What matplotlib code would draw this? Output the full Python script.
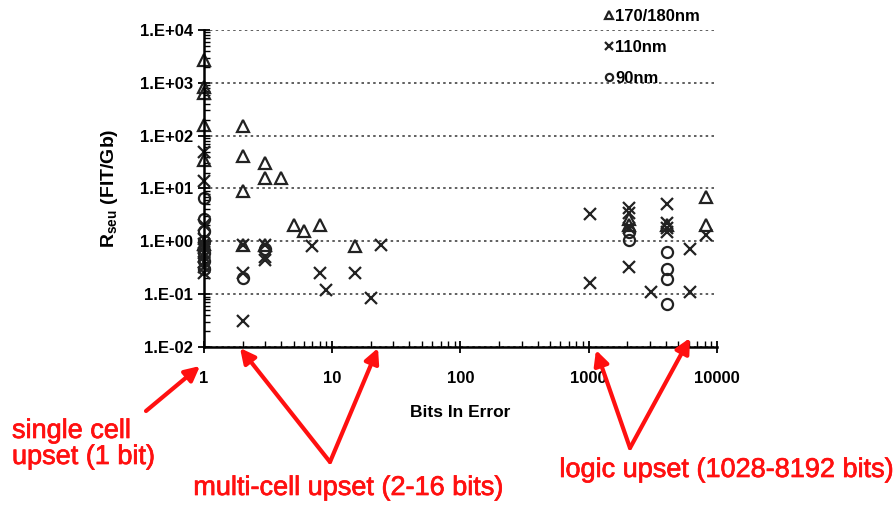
import matplotlib.pyplot as plt
import matplotlib.patheffects as pe
from matplotlib.patches import FancyArrowPatch
from matplotlib.ticker import FixedLocator, LogLocator, NullFormatter

# bits in error / R_seu (FIT/Gb)
tri_bits = [1, 1, 1, 1, 1, 1, 2, 2, 2, 2, 3, 3, 3, 4, 5, 6, 8, 15,
            2048, 2048, 4096, 8192, 8192]
tri_rate = [2700, 850, 650, 160, 35, 0.9, 150, 42, 9, 0.85, 31, 16, 0.85, 16, 2.0, 1.6, 2.0, 0.8,
            2.7, 2.0, 2.0, 7.0, 2.0]

x_bits = [1, 1, 1, 1, 1, 1, 1, 1, 1, 1, 1,
          2, 2, 2, 3, 3, 3, 7, 8, 9, 15, 20, 24,
          1024, 1024, 2048, 2048, 2048, 2048, 3072,
          4096, 4096, 4096, 4096, 6144, 6144, 8192]
x_rate = [50, 14, 2.0, 1.1, 0.9, 0.75, 0.6, 0.5, 0.4, 0.33, 0.25,
          0.85, 0.25, 0.031, 0.85, 0.5, 0.45, 0.8, 0.25, 0.12, 0.25, 0.085, 0.85,
          3.3, 0.16, 4.3, 3.4, 1.8, 0.32, 0.11,
          5.0, 2.2, 1.8, 1.5, 0.7, 0.11, 1.3]

o_bits = [1, 1, 1, 1, 1, 1, 1, 2, 3, 2048, 2048, 4096, 4096, 4096, 4096]
o_rate = [6.5, 2.7, 1.6, 1.0, 0.6, 0.43, 0.3, 0.2, 0.7, 1.5, 1.05, 0.62, 0.3, 0.19, 0.065]

y_ticks = [1e-2, 1e-1, 1e0, 1e1, 1e2, 1e3, 1e4]
y_labels = ['1.E-02', '1.E-01', '1.E+00', '1.E+01', '1.E+02', '1.E+03', '1.E+04']
x_ticks = [1, 10, 100, 1000, 10000]
x_labels = ['1', '10', '100', '1000', '10000']

plt.rcParams['font.family'] = ['Liberation Sans', 'DejaVu Sans']
plt.rcParams['mathtext.fontset'] = 'custom'
plt.rcParams['mathtext.rm'] = 'Liberation Sans'
plt.rcParams['mathtext.bf'] = 'Liberation Sans:bold'

fig = plt.figure(figsize=(8.96, 5.08), dpi=100)
ax = fig.add_axes([0.2277, 0.317, 0.5725, 0.624])

ink = '#222222'
ax.plot(tri_bits, tri_rate, ls='none', marker='^', ms=9, mfc='none', mec=ink, mew=1.6,
        label='170/180nm', clip_on=False)
ax.plot(x_bits, x_rate, ls='none', marker='x', ms=9, mec=ink, mew=1.6,
        label='110nm', clip_on=False)
ax.plot(o_bits, o_rate, ls='none', marker='o', ms=8, mfc='none', mec=ink, mew=1.6,
        label='90nm', clip_on=False)

ax.set_xscale('log')
ax.set_yscale('log')
ax.set_xlim(1, 10000)
ax.set_ylim(1e-2, 1e4)

ax.yaxis.set_major_locator(FixedLocator(y_ticks))
ax.set_yticklabels(y_labels)
ax.xaxis.set_major_locator(FixedLocator(x_ticks))
ax.set_xticklabels(x_labels)
ax.xaxis.set_minor_locator(LogLocator(base=10, subs=range(2, 10)))
ax.yaxis.set_minor_locator(LogLocator(base=10, subs=range(2, 10)))
ax.xaxis.set_minor_formatter(NullFormatter())
ax.yaxis.set_minor_formatter(NullFormatter())

ax.tick_params(which='major', direction='inout', length=8, width=1.3, labelsize=12)
ax.tick_params(axis='y', which='major', pad=4)
ax.tick_params(axis='x', which='major', pad=13)
ax.tick_params(which='minor', direction='in', length=4, width=1)
for lab in ax.get_xticklabels() + ax.get_yticklabels():
    lab.set_fontweight('bold')

ax.grid(True, axis='y', which='major', ls=(0, (1.5, 2)), color='#444444', lw=1.2)
for s in ['top', 'right']:
    ax.spines[s].set_visible(False)
for s in ['left', 'bottom']:
    ax.spines[s].set_linewidth(1.8)

ax.set_xlabel('Bits In Error', fontsize=12.5, fontweight='bold', labelpad=14)
ax.set_ylabel(r'R$_{\mathbf{seu}}$ (FIT/Gb)', fontsize=14, fontweight='bold', labelpad=14)

leg = ax.legend(loc='upper left', bbox_to_anchor=(0.658, 1.012), bbox_transform=fig.transFigure,
                frameon=False, markerscale=0.65, handlelength=0.5, handletextpad=0.15,
                labelspacing=0.95, prop={'weight': 'bold', 'size': 12})

# red annotations
red = '#ff1010'
thick = [pe.withStroke(linewidth=0.5, foreground=red)]


def px(x, y):
    return (x / 896, 1 - y / 508)


def arrow(tail, tip):
    fig.add_artist(FancyArrowPatch(
        px(*tail), px(*tip), transform=fig.transFigure, arrowstyle='-|>',
        mutation_scale=22, color=red, lw=3, shrinkA=0, shrinkB=0))


fig.text(*px(12, 444), 'single cell\nupset (1 bit)', color=red, fontsize=19.5,
         ha='left', va='center', linespacing=1.0, path_effects=thick)
arrow((146, 411), (200, 366))

fig.text(*px(349, 488), 'multi-cell upset (2-16 bits)', color=red, fontsize=19.5,
         ha='center', va='center', path_effects=thick)
arrow((330, 462), (240, 348))
arrow((330, 462), (378, 348))

fig.text(*px(727, 470), 'logic upset (1028-8192 bits)', color=red, fontsize=19.5,
         ha='center', va='center', path_effects=thick)
arrow((630, 448), (596, 350))
arrow((630, 448), (690, 338))

fig.savefig('out.png', dpi=100)
